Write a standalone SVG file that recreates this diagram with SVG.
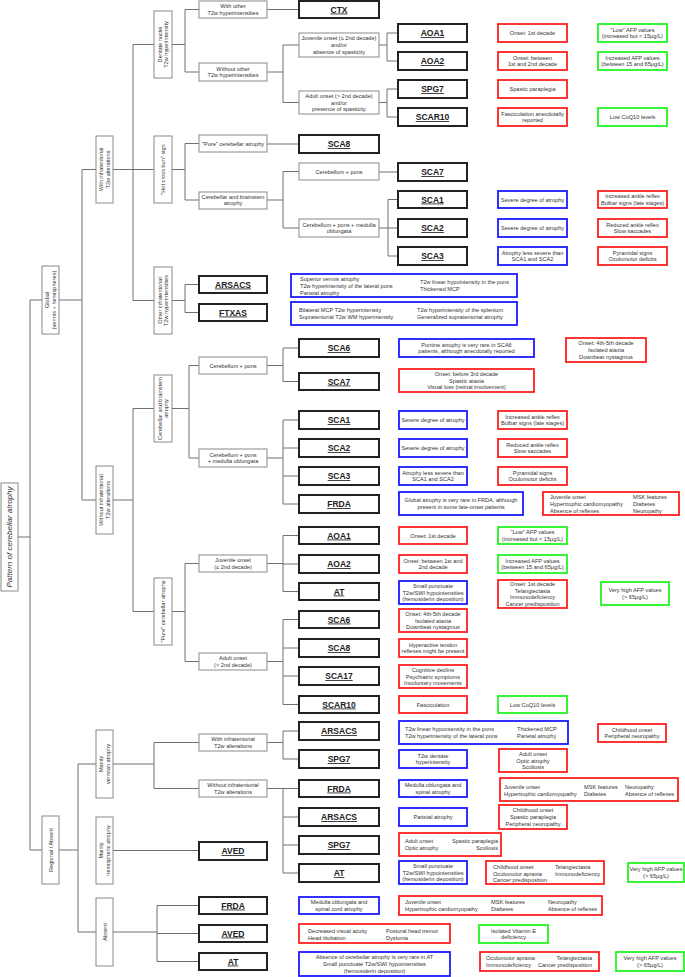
<svg xmlns="http://www.w3.org/2000/svg" width="685" height="977" viewBox="0 0 685 977">
<style>
.g{fill:#fff;stroke:#8a8a8a;stroke-width:1}
.k{fill:#fff;stroke:#222;stroke-width:2}
.b{fill:#fff;stroke:#1a1aff;stroke-width:1.8}
.r{fill:#fff;stroke:#ff1f1f;stroke-width:1.8}
.q{fill:#fff;stroke:#22f522;stroke-width:1.8}
text{font-family:"Liberation Sans",Arial,sans-serif;font-size:5.6px;fill:#333;text-anchor:middle}
.s{text-anchor:start}
.e{text-anchor:end}
.kt{font-size:8.5px;font-weight:bold;text-decoration:underline;fill:#222}
.it{font-size:8px;font-style:italic}
#conn path{fill:none;stroke:#707070;stroke-width:1}
</style>
<rect width="685" height="977" fill="#fff"/>
<g id="conn"><path d="
M18 537H30 M30 300V850 M30 300H42 M30 850H42
M59 300H82 M82 169.5V500 M82 169.5H96 M82 500H96
M113 169.5H133 M133 44.5V300.5 M133 44.5H154 M133 169.5H154 M133 300.5H154
M172 44.5H185 M185 9.5V72 M185 9.5H199 M185 72H199
M172 169.5H185 M185 143.5V200 M185 143.5H199 M185 200H199
M172 300.5H185 M185 284.5V312.5 M185 284.5H199 M185 312.5H199
M267 9.5H299
M267 72H283 M283 45V102.5 M283 45H299 M283 102.5H299
M267 144H299
M267 200H283 M283 171.5V228 M283 171.5H299 M283 228H299
M379 45H387 M387 33V61 M387 33H398 M387 61H398
M379 102.5H387 M387 89V117 M387 89H398 M387 117H398
M379 172H398
M379 228H388 M388 199.5V256 M388 199.5H398 M388 228H398 M388 256H398
M113 500H133 M133 408.5V611.5 M133 408.5H154 M133 611.5H154
M172 408.5H189 M189 365.5V458 M189 365.5H199 M189 458H199
M267 365.5H283 M283 348V381.5 M283 348H299 M283 381.5H299
M267 458H283 M283 420V504 M283 420H299 M283 448H299 M283 476H299 M283 504H299
M172 611.5H185 M185 563.5V661.5 M185 563.5H199 M185 661.5H199
M267 563.5H283 M283 535.5V591.5 M283 535.5H299 M283 564H299 M283 591.5H299
M267 661.5H283 M283 619.5V704.5 M283 619.5H299 M283 648H299 M283 676H299 M283 704.5H299
M59 850H78 M78 764V932 M78 764H96 M78 932H96
M113 764H154 M154 742.5V788.5 M154 742.5H199 M154 788.5H199
M267 742.5H283 M283 731V759 M283 731H299 M283 759H299
M267 788.5H283 M283 788.5V873 M283 817H299 M283 845H299 M283 873H299 M283 788.5H299
M113 850.5H199
M113 932H157 M157 905.5V961.5 M157 905.5H199 M157 933.5H199 M157 961.5H199"/></g>

<!-- left hierarchy -->
<g id="pattern"><rect class="g" x="1" y="483" width="17" height="108"/><text class="it" transform="translate(9.5,537) rotate(-90)" y="2.8">Pattern of cerebellar atrophy</text></g>
<g id="global"><rect class="g" x="42" y="266" width="17" height="68"/><text transform="translate(50.5,300) rotate(-90)"><tspan x="0" y="-1.4">Global</tspan><tspan x="0" y="5.4">(vermis + hemispheres)</tspan></text></g>
<g id="regional"><rect class="g" x="42" y="816" width="17" height="68"/><text transform="translate(50.5,850) rotate(-90)" y="2">Regional / Absent</text></g>
<g id="with-infra"><rect class="g" x="96" y="136" width="17" height="67"/><text transform="translate(104.5,169.5) rotate(-90)"><tspan x="0" y="-1.4">With infratentorial</tspan><tspan x="0" y="5.4">T2w alterations</tspan></text></g>
<g id="without-infra"><rect class="g" x="96" y="466" width="17" height="68"/><text transform="translate(104.5,500) rotate(-90)"><tspan x="0" y="-1.4">Without infratentorial</tspan><tspan x="0" y="5.4">T2w alterations</tspan></text></g>
<g id="vermian"><rect class="g" x="96" y="730" width="17" height="68"/><text transform="translate(104.5,764) rotate(-90)"><tspan x="0" y="-1.4">Mainly</tspan><tspan x="0" y="5.4">vermian atrophy</tspan></text></g>
<g id="hemispheric"><rect class="g" x="96" y="817" width="17" height="67"/><text transform="translate(104.5,850.5) rotate(-90)"><tspan x="0" y="-1.4">Mainly</tspan><tspan x="0" y="5.4">hemispheric atrophy</tspan></text></g>
<g id="absent"><rect class="g" x="96" y="898" width="17" height="68"/><text transform="translate(104.5,932) rotate(-90)" y="2">Absent</text></g>
<g id="dentate"><rect class="g" x="154" y="11" width="18" height="67"/><text transform="translate(163,44.5) rotate(-90)"><tspan x="0" y="-1.4">Dentate nuclei</tspan><tspan x="0" y="5.4">T2w hyperintensity</tspan></text></g>
<g id="hcb"><rect class="g" x="154" y="136" width="18" height="67"/><text transform="translate(163,169.5) rotate(-90)" y="2">"Hot cross bun" sign</text></g>
<g id="other-infra"><rect class="g" x="154" y="267" width="18" height="67"/><text transform="translate(163,300.5) rotate(-90)"><tspan x="0" y="-1.4">Other infratentorial</tspan><tspan x="0" y="5.4">T2w hyperintensities</tspan></text></g>
<g id="cb-atrophy2"><rect class="g" x="154" y="375" width="18" height="67"/><text transform="translate(163,408.5) rotate(-90)"><tspan x="0" y="-1.4">Cerebellar and brainstem</tspan><tspan x="0" y="5.4">atrophy</tspan></text></g>
<g id="pure2"><rect class="g" x="154" y="578" width="18" height="67"/><text transform="translate(163,611.5) rotate(-90)" y="2">"Pure" cerebellar atrophy</text></g>

<!-- level 4 grey -->
<g id="with-other"><rect class="g" x="199" y="1" width="68" height="17"/><text><tspan x="233" y="8.1">With other</tspan><tspan x="233" y="14.9">T2w hyperintensities</tspan></text></g>
<g id="without-other"><rect class="g" x="199" y="63" width="68" height="18"/><text><tspan x="233" y="70.6">Without other</tspan><tspan x="233" y="77.4">T2w hyperintensities</tspan></text></g>
<g id="pure1"><rect class="g" x="199" y="135" width="68" height="17"/><text x="233" y="145.5">"Pure" cerebellar atrophy</text></g>
<g id="cb-atrophy1"><rect class="g" x="199" y="192" width="68" height="17"/><text><tspan x="233" y="198.6">Cerebellar and brainstem</tspan><tspan x="233" y="205.4">atrophy</tspan></text></g>
<g id="cp2"><rect class="g" x="199" y="357" width="68" height="17"/><text x="233" y="367.5">Cerebellum + pons</text></g>
<g id="cpm2"><rect class="g" x="199" y="449" width="68" height="18"/><text><tspan x="233" y="456.6">Cerebellum + pons</tspan><tspan x="233" y="463.4">+ medulla oblungata</tspan></text></g>
<g id="juv2"><rect class="g" x="199" y="555" width="68" height="17"/><text><tspan x="233" y="562.1">Juvenile onset</tspan><tspan x="233" y="568.9">(≤ 2nd decade)</tspan></text></g>
<g id="adult2"><rect class="g" x="199" y="653" width="68" height="17"/><text><tspan x="233" y="660.1">Adult onset</tspan><tspan x="233" y="666.9">(&gt; 2nd decade)</tspan></text></g>
<g id="with-infra3"><rect class="g" x="199" y="734" width="68" height="17"/><text><tspan x="233" y="741.1">With infratentorial</tspan><tspan x="233" y="747.9">T2w alterations</tspan></text></g>
<g id="without-infra3"><rect class="g" x="199" y="780" width="68" height="17"/><text><tspan x="233" y="787.1">Without infratentorial</tspan><tspan x="233" y="793.9">T2w alterations</tspan></text></g>

<!-- level 5 grey -->
<g id="juv1"><rect class="g" x="299" y="33" width="80" height="24"/><text><tspan x="339" y="40.2">Juvenile onset (≤ 2nd decade)</tspan><tspan x="339" y="47">and/or</tspan><tspan x="339" y="53.8">absence of spasticity</tspan></text></g>
<g id="adult1"><rect class="g" x="299" y="91" width="80" height="23"/><text><tspan x="339" y="97.7">Adult onset (&gt; 2nd decade)</tspan><tspan x="339" y="104.5">and/or</tspan><tspan x="339" y="111.3">presence of spasticity</tspan></text></g>
<g id="cp1"><rect class="g" x="299" y="163" width="80" height="17"/><text x="339" y="173.5">Cerebellum + pons</text></g>
<g id="cpm1"><rect class="g" x="299" y="219" width="80" height="18"/><text><tspan x="339" y="226.6">Cerebellum + pons + medulla</tspan><tspan x="339" y="233.4">oblungata</tspan></text></g>

<!-- disease nodes -->
<g id="d-arsacs1"><rect class="k" x="199" y="276" width="68" height="17"/><text class="kt" x="233" y="287.5">ARSACS</text></g>
<g id="d-ftxas"><rect class="k" x="199" y="304" width="68" height="17"/><text class="kt" x="233" y="315.5">FTXAS</text></g>
<g id="d-aved1"><rect class="k" x="199" y="842" width="68" height="18"/><text class="kt" x="233" y="854">AVED</text></g>
<g id="d-frda3"><rect class="k" x="199" y="897" width="68" height="17"/><text class="kt" x="233" y="908.5">FRDA</text></g>
<g id="d-aved2"><rect class="k" x="199" y="925" width="68" height="17"/><text class="kt" x="233" y="936.5">AVED</text></g>
<g id="d-at3"><rect class="k" x="199" y="953" width="68" height="17"/><text class="kt" x="233" y="964.5">AT</text></g>

<g id="d-ctx"><rect class="k" x="299" y="1" width="80" height="17"/><text class="kt" x="339" y="12.5">CTX</text></g>
<g id="d-sca8a"><rect class="k" x="299" y="135" width="80" height="18"/><text class="kt" x="339" y="147">SCA8</text></g>
<g id="d-sca6a"><rect class="k" x="299" y="339" width="80" height="18"/><text class="kt" x="339" y="351">SCA6</text></g>
<g id="d-sca7b"><rect class="k" x="299" y="373" width="80" height="17"/><text class="kt" x="339" y="384.5">SCA7</text></g>
<g id="d-sca1b"><rect class="k" x="299" y="411" width="80" height="18"/><text class="kt" x="339" y="423">SCA1</text></g>
<g id="d-sca2b"><rect class="k" x="299" y="439" width="80" height="18"/><text class="kt" x="339" y="451">SCA2</text></g>
<g id="d-sca3b"><rect class="k" x="299" y="467" width="80" height="18"/><text class="kt" x="339" y="479">SCA3</text></g>
<g id="d-frda1"><rect class="k" x="299" y="495" width="80" height="18"/><text class="kt" x="339" y="507">FRDA</text></g>
<g id="d-aoa1b"><rect class="k" x="299" y="527" width="80" height="17"/><text class="kt" x="339" y="538.5">AOA1</text></g>
<g id="d-aoa2b"><rect class="k" x="299" y="555" width="80" height="18"/><text class="kt" x="339" y="567">AOA2</text></g>
<g id="d-at1"><rect class="k" x="299" y="583" width="80" height="17"/><text class="kt" x="339" y="594.5">AT</text></g>
<g id="d-sca6b"><rect class="k" x="299" y="611" width="80" height="17"/><text class="kt" x="339" y="622.5">SCA6</text></g>
<g id="d-sca8b"><rect class="k" x="299" y="639" width="80" height="18"/><text class="kt" x="339" y="651">SCA8</text></g>
<g id="d-sca17"><rect class="k" x="299" y="667" width="80" height="18"/><text class="kt" x="339" y="679">SCA17</text></g>
<g id="d-scar10b"><rect class="k" x="299" y="696" width="80" height="17"/><text class="kt" x="339" y="707.5">SCAR10</text></g>
<g id="d-arsacs2"><rect class="k" x="299" y="722" width="80" height="18"/><text class="kt" x="339" y="734">ARSACS</text></g>
<g id="d-spg7b"><rect class="k" x="299" y="750" width="80" height="18"/><text class="kt" x="339" y="762">SPG7</text></g>
<g id="d-frda2"><rect class="k" x="299" y="780" width="80" height="17"/><text class="kt" x="339" y="791.5">FRDA</text></g>
<g id="d-arsacs3"><rect class="k" x="299" y="808" width="80" height="18"/><text class="kt" x="339" y="820">ARSACS</text></g>
<g id="d-spg7c"><rect class="k" x="299" y="836" width="80" height="18"/><text class="kt" x="339" y="848">SPG7</text></g>
<g id="d-at2"><rect class="k" x="299" y="864" width="80" height="18"/><text class="kt" x="339" y="876">AT</text></g>

<g id="d-aoa1a"><rect class="k" x="398" y="24" width="69" height="18"/><text class="kt" x="432.5" y="36">AOA1</text></g>
<g id="d-aoa2a"><rect class="k" x="398" y="52" width="69" height="18"/><text class="kt" x="432.5" y="64">AOA2</text></g>
<g id="d-spg7a"><rect class="k" x="398" y="80" width="69" height="18"/><text class="kt" x="432.5" y="92">SPG7</text></g>
<g id="d-scar10a"><rect class="k" x="398" y="108" width="69" height="18"/><text class="kt" x="432.5" y="120">SCAR10</text></g>
<g id="d-sca7a"><rect class="k" x="398" y="163" width="69" height="18"/><text class="kt" x="432.5" y="175">SCA7</text></g>
<g id="d-sca1a"><rect class="k" x="398" y="191" width="69" height="17"/><text class="kt" x="432.5" y="202.5">SCA1</text></g>
<g id="d-sca2a"><rect class="k" x="398" y="219" width="69" height="18"/><text class="kt" x="432.5" y="231">SCA2</text></g>
<g id="d-sca3a"><rect class="k" x="398" y="247" width="69" height="18"/><text class="kt" x="432.5" y="259">SCA3</text></g>

<!-- feature boxes: section A -->
<g id="f1"><rect class="r" x="498" y="24" width="69" height="18"/><text x="532.5" y="35">Onset: 1st decade</text></g>
<g id="f2"><rect class="q" x="598" y="24" width="69" height="18"/><text><tspan x="632.5" y="31.6">"Low" AFP values</tspan><tspan x="632.5" y="38.4">(increased but &lt; 15μg/L)</tspan></text></g>
<g id="f3"><rect class="r" x="498" y="52" width="69" height="18"/><text><tspan x="532.5" y="59.6">Onset: between</tspan><tspan x="532.5" y="66.4">1st and 2nd decade</tspan></text></g>
<g id="f4"><rect class="q" x="598" y="52" width="69" height="18"/><text><tspan x="632.5" y="59.6">Increased AFP values</tspan><tspan x="632.5" y="66.4">(between 15 and 65μg/L)</tspan></text></g>
<g id="f5"><rect class="r" x="498" y="80" width="69" height="18"/><text x="532.5" y="91">Spastic paraplegia</text></g>
<g id="f6"><rect class="r" x="498" y="108" width="69" height="18"/><text><tspan x="532.5" y="115.6">Fasciculation anecdotally</tspan><tspan x="532.5" y="122.4">reported</tspan></text></g>
<g id="f7"><rect class="q" x="598" y="108" width="69" height="18"/><text x="632.5" y="119">Low CoQ10 levels</text></g>
<g id="f8"><rect class="b" x="498" y="191" width="69" height="17"/><text x="532.5" y="201.5">Severe degree of atrophy</text></g>
<g id="f9"><rect class="r" x="598" y="191" width="69" height="17"/><text><tspan x="632.5" y="198.1">Increased ankle reflex</tspan><tspan x="632.5" y="204.9">Bulbar signs (late stages)</tspan></text></g>
<g id="f10"><rect class="b" x="498" y="219" width="69" height="18"/><text x="532.5" y="230">Severe degree of atrophy</text></g>
<g id="f11"><rect class="r" x="598" y="219" width="69" height="18"/><text><tspan x="632.5" y="226.6">Reduced ankle reflex</tspan><tspan x="632.5" y="233.4">Slow saccades</tspan></text></g>
<g id="f12"><rect class="b" x="498" y="247" width="69" height="18"/><text><tspan x="532.5" y="254.6">Atrophy less severe than</tspan><tspan x="532.5" y="261.4">SCA1 and SCA2</tspan></text></g>
<g id="f13"><rect class="r" x="598" y="247" width="69" height="18"/><text><tspan x="632.5" y="254.6">Pyramidal signs</tspan><tspan x="632.5" y="261.4">Oculomotor deficits</tspan></text></g>
<g id="f14"><rect class="b" x="291" y="274" width="226" height="23"/><text class="s"><tspan x="300" y="281">Superior vermis atrophy</tspan><tspan x="300" y="287.8">T2w hyperintensity of the lateral pons</tspan><tspan x="300" y="294.6">Parietal atrophy</tspan><tspan x="420" y="284.4">T2w linear hypointensity in the pons</tspan><tspan x="420" y="291.2">Thickened MCP</tspan></text></g>
<g id="f15"><rect class="b" x="291" y="302" width="226" height="23"/><text class="s"><tspan x="299" y="312">Bilateral MCP T2w hyperintensity</tspan><tspan x="299" y="318.8">Supratentorial T2w WM hyperintensity</tspan><tspan x="417" y="312">T2w hyperintensity of the splenium</tspan><tspan x="417" y="318.8">Generalized supratentorial atrophy</tspan></text></g>

<!-- section B -->
<g id="f16"><rect class="b" x="399" y="339" width="135" height="18"/><text><tspan x="466.5" y="346.6">Pontine atrophy is very rare in SCA6</tspan><tspan x="466.5" y="353.4">patients, although anecdotally reported</tspan></text></g>
<g id="f17"><rect class="r" x="566" y="338" width="80" height="24"/><text><tspan x="606" y="345.2">Onset: 4th-5th decade</tspan><tspan x="606" y="352">Isolated ataxia</tspan><tspan x="606" y="358.8">Downbeat nystagmus</tspan></text></g>
<g id="f18"><rect class="r" x="399" y="369" width="135" height="23"/><text><tspan x="466.5" y="375.7">Onset: before 3rd decade</tspan><tspan x="466.5" y="382.5">Spastic ataxia</tspan><tspan x="466.5" y="389.3">Visual loss (retinal involvement)</tspan></text></g>
<g id="f19"><rect class="b" x="399" y="411" width="68" height="18"/><text x="433" y="422">Severe degree of atrophy</text></g>
<g id="f20"><rect class="r" x="498" y="411" width="69" height="18"/><text><tspan x="532.5" y="418.6">Increased ankle reflex</tspan><tspan x="532.5" y="425.4">Bulbar signs (late stages)</tspan></text></g>
<g id="f21"><rect class="b" x="399" y="439" width="68" height="18"/><text x="433" y="450">Severe degree of atrophy</text></g>
<g id="f22"><rect class="r" x="498" y="439" width="69" height="18"/><text><tspan x="532.5" y="446.6">Reduced ankle reflex</tspan><tspan x="532.5" y="453.4">Slow saccades</tspan></text></g>
<g id="f23"><rect class="b" x="399" y="467" width="68" height="18"/><text><tspan x="433" y="474.6">Atrophy less severe than</tspan><tspan x="433" y="481.4">SCA1 and SCA2</tspan></text></g>
<g id="f24"><rect class="r" x="498" y="467" width="69" height="18"/><text><tspan x="532.5" y="474.6">Pyramidal signs</tspan><tspan x="532.5" y="481.4">Oculomotor deficits</tspan></text></g>
<g id="f25"><rect class="b" x="399" y="492" width="124" height="23"/><text><tspan x="461" y="502">Global atrophy is very rare in FRDA, although</tspan><tspan x="461" y="508.8">present in some late-onset patients</tspan></text></g>
<g id="f26"><rect class="r" x="543" y="492" width="136" height="23"/><text class="s"><tspan x="550" y="499">Juvenile onset</tspan><tspan x="550" y="505.8">Hypertrophic cardiomyopathy</tspan><tspan x="550" y="512.6">Absence of reflexes</tspan><tspan x="633" y="499">MSK features</tspan><tspan x="633" y="505.8">Diabetes</tspan><tspan x="633" y="512.6">Neuropathy</tspan></text></g>
<g id="f27"><rect class="r" x="399" y="527" width="68" height="17"/><text x="433" y="537.5">Onset: 1st decade</text></g>
<g id="f28"><rect class="q" x="498" y="527" width="69" height="17"/><text><tspan x="532.5" y="534.1">"Low" AFP values</tspan><tspan x="532.5" y="540.9">(increased but &lt; 15μg/L)</tspan></text></g>
<g id="f29"><rect class="r" x="399" y="555" width="68" height="18"/><text><tspan x="433" y="562.6">Onset: between 1st and</tspan><tspan x="433" y="569.4">2nd decade</tspan></text></g>
<g id="f30"><rect class="q" x="498" y="555" width="69" height="18"/><text><tspan x="532.5" y="562.6">Increased AFP values</tspan><tspan x="532.5" y="569.4">(between 15 and 65μg/L)</tspan></text></g>
<g id="f31"><rect class="b" x="399" y="581" width="68" height="23"/><text><tspan x="433" y="587.7">Small punctuate</tspan><tspan x="433" y="594.5">T2w/SWI hypointensities</tspan><tspan x="433" y="601.3">(hemosiderin deposition)</tspan></text></g>
<g id="f32"><rect class="r" x="498" y="580" width="69" height="28"/><text><tspan x="532.5" y="585.8">Onset: 1st decade</tspan><tspan x="532.5" y="592.6">Telangiectasia</tspan><tspan x="532.5" y="599.4">Immunodeficiency</tspan><tspan x="532.5" y="606.2">Cancer predisposition</tspan></text></g>
<g id="f33"><rect class="q" x="601" y="582" width="68" height="23"/><text><tspan x="635" y="592">Very high AFP values</tspan><tspan x="635" y="598.8">(&gt; 65μg/L)</tspan></text></g>
<g id="f34"><rect class="r" x="399" y="609" width="68" height="23"/><text><tspan x="433" y="615.7">Onset: 4th-5th decade</tspan><tspan x="433" y="622.5">Isolated ataxia</tspan><tspan x="433" y="629.3">Downbeat nystagmus</tspan></text></g>
<g id="f35"><rect class="r" x="399" y="639" width="68" height="18"/><text><tspan x="433" y="646.6">Hyperactive tendon</tspan><tspan x="433" y="653.4">reflexes might be present</tspan></text></g>
<g id="f36"><rect class="r" x="399" y="665" width="68" height="23"/><text><tspan x="433" y="671.7">Cognitive decline</tspan><tspan x="433" y="678.5">Psychiatric symptoms</tspan><tspan x="433" y="685.3">Involuntary movements</tspan></text></g>
<g id="f37"><rect class="r" x="399" y="696" width="68" height="17"/><text x="433" y="706.5">Fasciculation</text></g>
<g id="f38"><rect class="q" x="498" y="696" width="69" height="17"/><text x="532.5" y="706.5">Low CoQ10 levels</text></g>

<!-- section C -->
<g id="f39"><rect class="b" x="399" y="721" width="169" height="23"/><text class="s"><tspan x="405" y="731">T2w linear hypointensity in the pons</tspan><tspan x="405" y="737.8">T2w hyperintensity of the lateral pons</tspan><tspan x="517" y="731">Thickened MCP</tspan><tspan x="517" y="737.8">Parietal atrophy</tspan></text></g>
<g id="f40"><rect class="r" x="598" y="724" width="68" height="18"/><text><tspan x="632" y="731.6">Childhood onset</tspan><tspan x="632" y="738.4">Peripheral neuropathy</tspan></text></g>
<g id="f41"><rect class="b" x="399" y="750" width="68" height="18"/><text><tspan x="433" y="757.6">T2w dentate</tspan><tspan x="433" y="764.4">hyperintensity</tspan></text></g>
<g id="f42"><rect class="r" x="499" y="749" width="68" height="23"/><text><tspan x="533" y="755.7">Adult onset</tspan><tspan x="533" y="762.5">Optic atrophy</tspan><tspan x="533" y="769.3">Scoliosis</tspan></text></g>
<g id="f43"><rect class="b" x="399" y="780" width="68" height="17"/><text><tspan x="433" y="787.1">Medulla oblungata and</tspan><tspan x="433" y="793.9">spinal atrophy</tspan></text></g>
<g id="f44"><rect class="r" x="500" y="778" width="178" height="23"/><text class="s"><tspan x="504" y="789">Juvenile onset</tspan><tspan x="504" y="795.8">Hypertrophic cardiomyopathy</tspan><tspan x="584" y="789">MSK features</tspan><tspan x="584" y="795.8">Diabetes</tspan><tspan x="625" y="789">Neuropathy</tspan><tspan x="625" y="795.8">Absence of reflexes</tspan></text></g>
<g id="f45"><rect class="b" x="399" y="808" width="68" height="18"/><text x="433" y="819">Parietal atrophy</text></g>
<g id="f46"><rect class="r" x="499" y="805" width="68" height="24"/><text><tspan x="533" y="812.2">Childhood onset</tspan><tspan x="533" y="819">Spastic paraplegia</tspan><tspan x="533" y="825.8">Peripheral neuropathy</tspan></text></g>
<g id="f47"><rect class="r" x="399" y="833" width="102" height="23"/><text class="s"><tspan x="405" y="843">Adult onset</tspan><tspan x="405" y="849.8">Optic atrophy</tspan></text><text class="e"><tspan x="498" y="843">Spastic paraplegia</tspan><tspan x="498" y="849.8">Scoliosis</tspan></text></g>
<g id="f48"><rect class="b" x="399" y="861" width="68" height="23"/><text><tspan x="433" y="867.7">Small punctuate</tspan><tspan x="433" y="874.5">T2w/SWI hypointensities</tspan><tspan x="433" y="881.3">(hemosiderin deposition)</tspan></text></g>
<g id="f49"><rect class="r" x="486" y="861" width="118" height="23"/><text class="s"><tspan x="493" y="869">Childhood onset</tspan><tspan x="493" y="875.8">Oculomotor apraxia</tspan><tspan x="493" y="882">Cancer predisposition</tspan><tspan x="555" y="869">Telangiectasia</tspan><tspan x="555" y="875.8">Immunodeficiency</tspan></text></g>
<g id="f50"><rect class="q" x="628" y="863" width="56" height="19"/><text><tspan x="656" y="871">Very high AFP values</tspan><tspan x="656" y="877.8">(&gt; 65μg/L)</tspan></text></g>

<!-- section D -->
<g id="f51"><rect class="b" x="299" y="897" width="80" height="17"/><text><tspan x="339" y="904.1">Medulla oblungata and</tspan><tspan x="339" y="910.9">spinal cord atrophy</tspan></text></g>
<g id="f52"><rect class="r" x="399" y="896" width="203" height="19"/><text class="s"><tspan x="405" y="904">Juvenile onset</tspan><tspan x="405" y="910.8">Hypertrophic cardiomyopathy</tspan><tspan x="491" y="904">MSK features</tspan><tspan x="491" y="910.8">Diabetes</tspan><tspan x="548" y="904">Neuropathy</tspan><tspan x="548" y="910.8">Absence of reflexes</tspan></text></g>
<g id="f53"><rect class="r" x="299" y="924" width="151" height="19"/><text class="s"><tspan x="308" y="933">Decreased visual acuity</tspan><tspan x="308" y="939.8">Head titubation</tspan><tspan x="386" y="933">Postural head tremor</tspan><tspan x="386" y="939.8">Dystonia</tspan></text></g>
<g id="f54"><rect class="q" x="479" y="925" width="69" height="18"/><text><tspan x="513.5" y="932.6">Isolated Vitamin E</tspan><tspan x="513.5" y="939.4">deficiency</tspan></text></g>
<g id="f55"><rect class="b" x="299" y="952" width="151" height="24"/><text><tspan x="374.5" y="959.2">Absence of cerebellar atrophy is very rare in AT</tspan><tspan x="374.5" y="966">Small punctuate T2w/SWI hypointensities</tspan><tspan x="374.5" y="972.8">(hemosiderin deposition)</tspan></text></g>
<g id="f56"><rect class="r" x="480" y="952" width="119" height="19"/><text class="s"><tspan x="486" y="960">Oculomotor apraxia</tspan><tspan x="486" y="966.8">Immunodeficiency</tspan></text><text class="e"><tspan x="592" y="960">Telangiectasia</tspan><tspan x="592" y="966.8">Cancer predisposition</tspan></text></g>
<g id="f57"><rect class="q" x="616" y="952" width="68" height="19"/><text><tspan x="650" y="960">Very high AFP values</tspan><tspan x="650" y="966.8">(&gt; 65μg/L)</tspan></text></g>
</svg>
